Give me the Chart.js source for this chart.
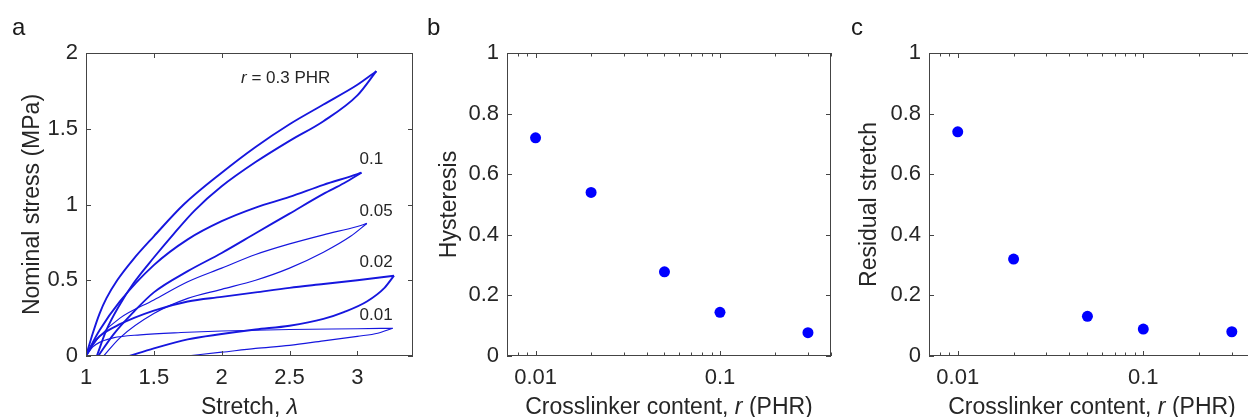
<!DOCTYPE html>
<html>
<head>
<meta charset="utf-8">
<script src="https://cdn.jsdelivr.net/npm/chart.js@4.4.1/dist/chart.umd.min.js"></script>
<style>
html,body{margin:0;padding:0;background:#fff;}
body{width:1248px;height:417px;overflow:hidden;position:relative;font-family:'Liberation Sans',Arial,Helvetica,sans-serif;}
canvas{position:absolute;top:0;}
.lbl{position:absolute;font-size:24px;line-height:24px;color:#1a1a1a;}
</style>
</head>
<body>
<canvas id="ca" width="420" height="430" style="left:0;width:420px;height:430px"></canvas>
<canvas id="cb" width="420" height="430" style="left:420px;width:420px;height:430px"></canvas>
<canvas id="cc" width="440" height="430" style="left:830px;width:440px;height:430px"></canvas>
<div class="lbl" style="left:12px;top:15px">a</div>
<div class="lbl" style="left:427px;top:15px">b</div>
<div class="lbl" style="left:851px;top:15px">c</div>
<script>
// ---------------- DATA ----------------
// Panel a: stress-stretch loops (stretch λ, nominal stress MPa)
const stretchLoad03   = [1, 1.05, 1.1, 1.15, 1.23, 1.35, 1.5, 1.72, 2.0, 2.25, 2.5, 2.75, 3.0, 3.14];
const stressLoad03    = [0, 0.15, 0.28, 0.38, 0.5, 0.64, 0.79, 1.0, 1.21, 1.38, 1.53, 1.66, 1.79, 1.88];
const stretchUnload03 = [1.08, 1.15, 1.25, 1.35, 1.5, 1.65, 1.8, 2.0, 2.25, 2.5, 2.75, 3.0, 3.14];
const stressUnload03  = [0, 0.17, 0.34, 0.48, 0.65, 0.81, 0.96, 1.12, 1.28, 1.42, 1.55, 1.72, 1.88];

const stretchLoad01   = [1, 1.05, 1.1, 1.25, 1.5, 1.75, 2.0, 2.25, 2.5, 2.75, 3.0, 3.03];
const stressLoad01    = [0, 0.09, 0.17, 0.36, 0.60, 0.77, 0.89, 0.98, 1.05, 1.13, 1.20, 1.21];
const stretchUnload01 = [1.09, 1.2, 1.35, 1.5, 1.75, 2.0, 2.25, 2.5, 2.75, 2.9, 3.03];
const stressUnload01  = [0, 0.14, 0.29, 0.42, 0.56, 0.68, 0.81, 0.94, 1.07, 1.14, 1.21];

const stretchLoad005   = [1, 1.05, 1.1, 1.25, 1.5, 1.75, 2.0, 2.25, 2.5, 2.75, 3.0, 3.07];
const stressLoad005    = [0, 0.07, 0.13, 0.25, 0.37, 0.49, 0.58, 0.67, 0.74, 0.80, 0.855, 0.875];
const stretchUnload005 = [1.13, 1.25, 1.5, 1.75, 2.0, 2.25, 2.5, 2.75, 2.95, 3.07];
const stressUnload005  = [0, 0.12, 0.28, 0.38, 0.44, 0.50, 0.58, 0.685, 0.79, 0.875];

const stretchLoad002   = [1, 1.05, 1.1, 1.25, 1.5, 1.75, 2.0, 2.25, 2.5, 2.75, 3.0, 3.27];
const stressLoad002    = [0, 0.08, 0.13, 0.21, 0.30, 0.36, 0.39, 0.42, 0.45, 0.475, 0.50, 0.53];
const stretchUnload002 = [1.32, 1.5, 1.75, 2.0, 2.25, 2.5, 2.75, 2.9, 3.07, 3.2, 3.27];
const stressUnload002  = [0, 0.05, 0.11, 0.145, 0.175, 0.20, 0.245, 0.29, 0.36, 0.45, 0.53];

const stretchLoad001   = [1, 1.05, 1.1, 1.2, 1.4, 1.7, 2.0, 2.5, 3.0, 3.26];
const stressLoad001    = [0, 0.06, 0.09, 0.12, 0.14, 0.155, 0.165, 0.175, 0.18, 0.183];
const stretchUnload001 = [1.74, 2.0, 2.25, 2.5, 2.75, 3.0, 3.15, 3.26];
const stressUnload001  = [0, 0.025, 0.05, 0.07, 0.10, 0.13, 0.15, 0.183];

// Panels b, c
const crosslinker     = [0.01, 0.02, 0.05, 0.1, 0.3];
const hysteresis      = [0.72, 0.54, 0.278, 0.144, 0.077];
const residualStretch = [0.74, 0.32, 0.131, 0.089, 0.080];

// Tick values and labels
const aXTicks = [1, 1.5, 2, 2.5, 3];
const aXTickLabels = ['1', '1.5', '2', '2.5', '3'];
const aYTicks = [0, 0.5, 1, 1.5, 2];
const aYTickLabels = ['0', '0.5', '1', '1.5', '2'];
const bcYTicks = [0, 0.2, 0.4, 0.6, 0.8, 1];
const bcYTickLabels = ['0', '0.2', '0.4', '0.6', '0.8', '1'];
const logTicks = [0.008, 0.009, 0.01, 0.02, 0.03, 0.04, 0.05, 0.06, 0.07, 0.08, 0.09, 0.1, 0.2, 0.3, 0.4];
const logTickLabels = ['', '', '0.01', '', '', '', '', '', '', '', '', '0.1', '', '', ''];

// Loop labels (text)
const loopLabelTexts = [
  [['r', true], [' = 0.3 PHR', false]],
  [['0.1', false]],
  [['0.05', false]],
  [['0.02', false]],
  [['0.01', false]]
];

// ---------------- STYLE / LAYOUT ----------------
const FONT = "'Liberation Sans', Arial, Helvetica, sans-serif";
Chart.defaults.font.family = FONT;
Chart.defaults.color = '#262626';
const TXT = '#262626';
const AXC = '#444444';
const LINE_BLUE = 'rgb(22,22,222)';
const DOT_BLUE = '#0000ff';

// label anchor positions in data units (panel a)
const loopLabelAnchors = [[2.143, 1.835], [3.016, 1.30], [3.016, 0.958], [3.016, 0.617], [3.016, 0.271]];

const matlabAxes = {
  id: 'matlabAxes',
  afterDatasetsDraw(chart) {
    const {ctx, chartArea} = chart;
    const {left, right, top, bottom} = chartArea;
    const xs = chart.scales.x, ys = chart.scales.y;
    ctx.save();
    ctx.strokeStyle = AXC;
    ctx.lineWidth = 1;
    ctx.beginPath();
    xs.ticks.forEach(t => {
      const p = Math.round(xs.getPixelForValue(t.value)) + 0.5;
      const L = t.major ? 5 : 3.5;
      ctx.moveTo(p, bottom); ctx.lineTo(p, bottom - L);
      ctx.moveTo(p, top); ctx.lineTo(p, top + L);
    });
    ys.ticks.forEach(t => {
      const p = Math.round(ys.getPixelForValue(t.value)) + 0.5;
      const L = t.major ? 5 : 3.5;
      ctx.moveTo(left, p); ctx.lineTo(left + L, p);
      ctx.moveTo(right, p); ctx.lineTo(right - L, p);
    });
    ctx.stroke();
    ctx.strokeRect(Math.round(left) + 0.5, Math.round(top) + 0.5, Math.round(right - left) - 1, Math.round(bottom - top) - 1);
    ctx.restore();
  }
};

function drawParts(ctx, parts, x, y, size, align) {
  const fontOf = it => (it ? 'italic ' : '') + size + 'px ' + FONT;
  let total = 0;
  parts.forEach(([t, it]) => { ctx.font = fontOf(it); total += ctx.measureText(t).width; });
  let cx = align === 'center' ? x - total / 2 : x;
  ctx.textAlign = 'left';
  parts.forEach(([t, it]) => {
    ctx.font = fontOf(it);
    ctx.fillText(t, cx, y);
    cx += ctx.measureText(t).width;
  });
}

const richTitle = {
  id: 'richTitle',
  afterDraw(chart, args, opts) {
    if (!opts || !opts.parts) return;
    const {ctx, chartArea} = chart;
    ctx.save();
    ctx.fillStyle = TXT;
    ctx.textBaseline = 'alphabetic';
    drawParts(ctx, opts.parts, (chartArea.left + chartArea.right) / 2, opts.baseline, opts.size, 'center');
    ctx.restore();
  }
};

const loopLabels = {
  id: 'loopLabels',
  afterDatasetsDraw(chart, args, opts) {
    if (!opts || !opts.items) return;
    const {ctx} = chart;
    ctx.save();
    ctx.fillStyle = TXT;
    ctx.textBaseline = 'middle';
    opts.items.forEach((parts, i) => {
      const [lx, ly] = opts.anchors[i];
      drawParts(ctx, parts, chart.scales.x.getPixelForValue(lx), chart.scales.y.getPixelForValue(ly), opts.size, 'left');
    });
    ctx.restore();
  }
};

function yAxis(min, max, vals, labels, width, title, titlePad) {
  return {
    type: 'linear', position: 'left', min, max,
    grid: {display: false, drawTicks: false, tickLength: 0},
    border: {display: false},
    ticks: {autoSkip: false, padding: 8, color: TXT, font: {size: 22}, callback: (v, i) => labels[i]},
    afterBuildTicks: s => { s.ticks = vals.map(v => ({value: v, major: true})); },
    afterFit: s => { s.width = width; },
    title: {display: true, text: title, color: TXT, font: {size: 23}, padding: {top: titlePad, bottom: 0}}
  };
}
function xAxis(type, min, max, vals, labels, majorLabelsOnly) {
  return {
    type, position: 'bottom', min, max,
    grid: {display: false, drawTicks: false, tickLength: 0},
    border: {display: false},
    ticks: {autoSkip: false, maxRotation: 0, minRotation: 0, padding: 9, color: TXT, font: {size: 22}, callback: (v, i) => labels[i]},
    afterBuildTicks: s => { s.ticks = vals.map((v, i) => ({value: v, major: majorLabelsOnly ? labels[i] !== '' : true})); },
    afterFit: s => { s.height = 74; }
  };
}

function branch(xs, ys) { return xs.map((x, i) => ({x, y: ys[i]})); }

const loops = [
  [stretchLoad03, stressLoad03, stretchUnload03, stressUnload03, 1.9],
  [stretchLoad01, stressLoad01, stretchUnload01, stressUnload01, 1.9],
  [stretchLoad005, stressLoad005, stretchUnload005, stressUnload005, 1.2],
  [stretchLoad002, stressLoad002, stretchUnload002, stressUnload002, 1.9],
  [stretchLoad001, stressLoad001, stretchUnload001, stressUnload001, 1.2]
];
const loopDatasets = [];
loops.forEach(([lx, ly, ux, uy, w]) => {
  [[lx, ly], [ux, uy]].forEach(([xs, ys]) => {
    loopDatasets.push({
      data: branch(xs, ys), borderColor: LINE_BLUE, borderWidth: w,
      pointRadius: 0, fill: false, cubicInterpolationMode: 'monotone'
    });
  });
});

const common = {
  responsive: false, animation: false, devicePixelRatio: 1, events: [],
};

new Chart(document.getElementById('ca'), {
  type: 'line',
  data: {datasets: loopDatasets},
  options: Object.assign({}, common, {
    layout: {padding: {top: 53, right: 7, left: 0, bottom: 0}},
    scales: {
      x: xAxis('linear', 1, 3.41, aXTicks, aXTickLabels, false),
      y: yAxis(0, 2, aYTicks, aYTickLabels, 86, 'Nominal stress (MPa)', 19)
    },
    plugins: {
      legend: {display: false}, tooltip: {enabled: false},
      richTitle: {parts: [['Stretch, ', false], ['λ', true]], baseline: 414, size: 23},
      loopLabels: {items: loopLabelTexts, anchors: loopLabelAnchors, size: 17}
    }
  }),
  plugins: [matlabAxes, richTitle, loopLabels]
});

function scatterChart(id, values, yTitle, yWidth, titlePad, padRight) {
  new Chart(document.getElementById(id), {
    type: 'scatter',
    data: {datasets: [{
      data: branch(crosslinker, values),
      backgroundColor: DOT_BLUE, borderColor: DOT_BLUE, borderWidth: 0, pointRadius: 5.5
    }]},
    options: Object.assign({}, common, {
      layout: {padding: {top: 53, right: padRight, left: 0, bottom: 0}},
      scales: {
        x: xAxis('logarithmic', 0.007, 0.4, logTicks, logTickLabels, true),
        y: yAxis(0, 1, bcYTicks, bcYTickLabels, yWidth, yTitle, titlePad)
      },
      plugins: {
        legend: {display: false}, tooltip: {enabled: false},
        richTitle: {parts: [['Crosslinker content, ', false], ['r', true], [' (PHR)', false]], baseline: 414, size: 23}
      }
    }),
    plugins: [matlabAxes, richTitle]
  });
}
scatterChart('cb', hysteresis, 'Hysteresis', 87, 16, 7);
scatterChart('cc', residualStretch, 'Residual stretch', 99, 26, 15);
</script>
</body>
</html>
